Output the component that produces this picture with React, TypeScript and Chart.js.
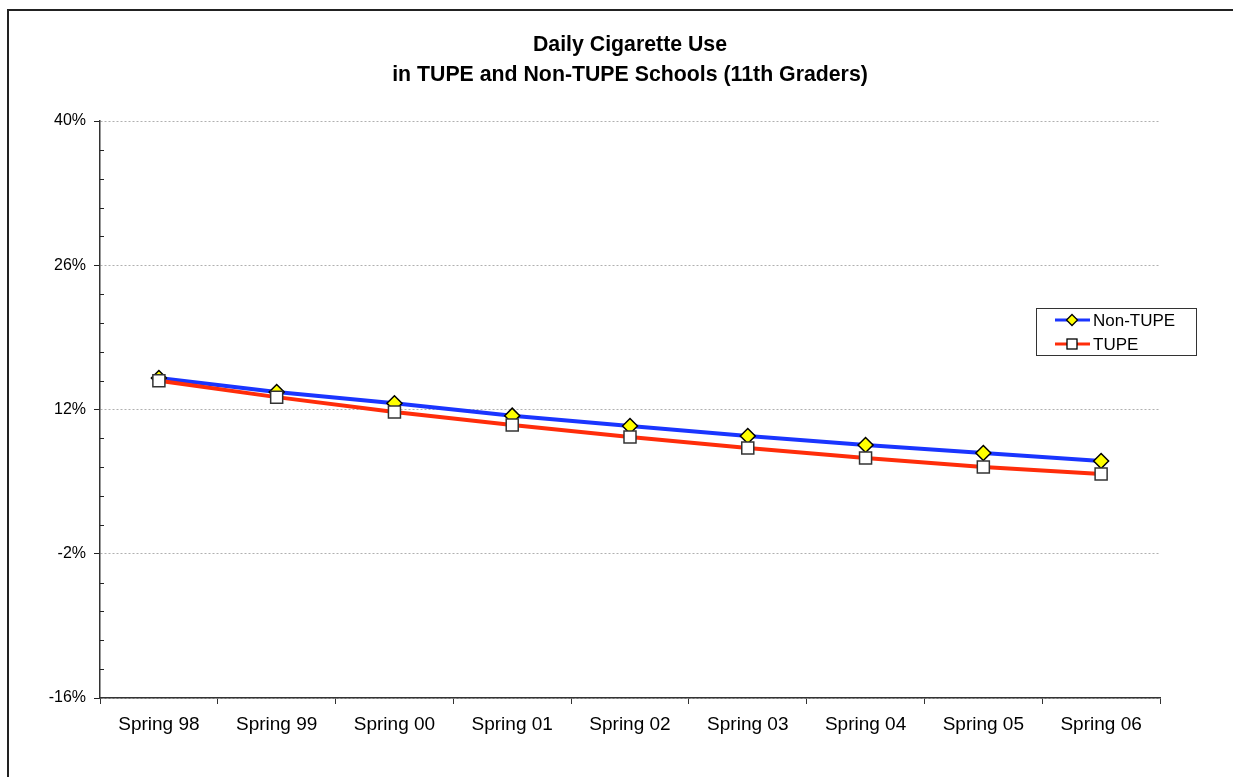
import React, { useEffect, useRef } from "react";
import { Chart, registerables } from "chart.js";

Chart.register(...registerables);

// Survey waves
const categories = [
  "Spring 98", "Spring 99", "Spring 00", "Spring 01", "Spring 02",
  "Spring 03", "Spring 04", "Spring 05", "Spring 06",
];

// Daily cigarette use, percent of 11th graders
const nonTupe = [15.05, 13.7, 12.6, 11.4, 10.4, 9.43, 8.56, 7.78, 7.0];
const tupe = [14.8, 13.2, 11.75, 10.5, 9.33, 8.27, 7.3, 6.42, 5.74];

// Y axis range and major tick step
const yMin = -16;
const yMax = 40;
const yStep = 14;
const minorPerMajor = 5;

const titleLines = ["Daily Cigarette Use", "in TUPE and Non-TUPE Schools (11th Graders)"];

const FONT = "'Liberation Sans', Arial, sans-serif";
const BLUE = "#1a35ff";
const RED = "#ff2d0a";

const titlePlugin = {
  id: "customTitle",
  afterDraw(chart: any) {
    const { ctx, chartArea } = chart;
    const cx = (chartArea.left + chartArea.right) / 2;
    ctx.save();
    ctx.fillStyle = "#000";
    ctx.font = `bold 21.3px ${FONT}`;
    ctx.textAlign = "center";
    ctx.textBaseline = "middle";
    ctx.fillText(titleLines[0], cx, 45);
    ctx.fillText(titleLines[1], cx, 75);
    ctx.restore();
  },
};

const minorTickPlugin = {
  id: "minorTicks",
  afterDraw(chart: any) {
    const { ctx, chartArea } = chart;
    const y = chart.scales.y;
    const minorStep = yStep / minorPerMajor;
    ctx.save();
    ctx.strokeStyle = "#222";
    ctx.lineWidth = 1;
    const n = Math.round((yMax - yMin) / minorStep);
    for (let i = 0; i <= n; i++) {
      if (i % minorPerMajor === 0) continue;
      const v = yMin + i * minorStep;
      const py = Math.round(y.getPixelForValue(v)) + 0.5;
      ctx.beginPath();
      ctx.moveTo(chartArea.left, py);
      ctx.lineTo(chartArea.left + 4, py);
      ctx.stroke();
    }
    ctx.restore();
  },
};

const legendPlugin = {
  id: "boxLegend",
  afterDraw(chart: any) {
    const { ctx } = chart;
    const bx = 1036.5, by = 308.5, bw = 160, bh = 47;
    ctx.save();
    ctx.fillStyle = "#fff";
    ctx.fillRect(bx, by, bw, bh);
    ctx.strokeStyle = "#333";
    ctx.lineWidth = 1;
    ctx.strokeRect(bx, by, bw, bh);
    const items = [
      { label: "Non-TUPE", color: BLUE, marker: "diamond", y: 320 },
      { label: "TUPE", color: RED, marker: "square", y: 344 },
    ];
    for (const it of items) {
      ctx.strokeStyle = it.color;
      ctx.lineWidth = 3;
      ctx.beginPath();
      ctx.moveTo(1055, it.y);
      ctx.lineTo(1090, it.y);
      ctx.stroke();
      const mx = 1072;
      ctx.lineWidth = 1.3;
      if (it.marker === "diamond") {
        ctx.fillStyle = "#ffff00";
        ctx.strokeStyle = "#000";
        ctx.beginPath();
        ctx.moveTo(mx, it.y - 5.5);
        ctx.lineTo(mx + 5.5, it.y);
        ctx.lineTo(mx, it.y + 5.5);
        ctx.lineTo(mx - 5.5, it.y);
        ctx.closePath();
        ctx.fill();
        ctx.stroke();
      } else {
        ctx.fillStyle = "#fff";
        ctx.strokeStyle = "#000";
        ctx.fillRect(mx - 5, it.y - 5, 10, 10);
        ctx.strokeRect(mx - 5, it.y - 5, 10, 10);
      }
      ctx.fillStyle = "#000";
      ctx.font = `17px ${FONT}`;
      ctx.textAlign = "left";
      ctx.textBaseline = "middle";
      ctx.fillText(it.label, 1093, it.y + 1);
    }
    ctx.restore();
  },
};

export default function App() {
  const canvasRef = useRef<HTMLCanvasElement | null>(null);

  useEffect(() => {
    if (!canvasRef.current) return;
    const chart = new Chart(canvasRef.current, {
      type: "line",
      data: {
        labels: categories,
        datasets: [
          {
            label: "Non-TUPE",
            data: nonTupe,
            borderColor: BLUE,
            backgroundColor: "#ffff00",
            borderWidth: 4,
            pointStyle: "rectRot",
            pointRadius: 7.5,
            pointBorderColor: "#000",
            pointBackgroundColor: "#ffff00",
            pointBorderWidth: 1.5,
            tension: 0,
            order: 2,
          },
          {
            label: "TUPE",
            data: tupe,
            borderColor: RED,
            backgroundColor: "#fff",
            borderWidth: 4,
            pointStyle: "rect",
            pointRadius: 8.5,
            pointBorderColor: "#333",
            pointBackgroundColor: "#fff",
            pointBorderWidth: 1.5,
            tension: 0,
            order: 1,
          },
        ],
      },
      options: {
        animation: false,
        responsive: false,
        maintainAspectRatio: false,
        layout: { padding: { top: 121, right: 73, left: 0, bottom: 0 } },
        plugins: {
          legend: { display: false },
          title: { display: false },
          tooltip: { enabled: false },
        },
        scales: {
          x: {
            offset: true,
            grid: {
              offset: true,
              drawOnChartArea: false,
              drawTicks: true,
              tickLength: 6,
              tickColor: "#333",
              color: "#333",
            },
            border: { color: "#333", width: 1.5 },
            ticks: {
              color: "#000",
              font: { family: FONT, size: 19 },
              padding: 9,
              maxRotation: 0,
              autoSkip: false,
            },
            afterFit(scale: any) {
              scale.height = 79;
            },
          },
          y: {
            min: yMin,
            max: yMax,
            grid: {
              color: "#b0b0b0",
              lineWidth: 1,
              tickBorderDash: [],
              tickColor: "#222",
              tickLength: 6,
              drawTicks: true,
            },
            border: { color: "#333", width: 1.5, dash: [2, 2] },
            ticks: {
              stepSize: yStep,
              color: "#000",
              font: { family: FONT, size: 16 },
              padding: 8,
              callback: (v: any) => `${v}%`,
            },
            afterFit(scale: any) {
              scale.width = 100;
            },
          },
        },
      },
      plugins: [minorTickPlugin, titlePlugin, legendPlugin],
    });
    return () => chart.destroy();
  }, []);

  return (
    <div style={{ position: "absolute", left: 0, top: 0, width: 1233, height: 777, background: "#fff", overflow: "hidden" }}>
      <canvas ref={canvasRef} width={1233} height={777} style={{ position: "absolute", left: 0, top: 0 }} />
      <div
        style={{
          position: "absolute",
          left: 7,
          top: 9,
          width: 1240,
          height: 780,
          borderTop: "2px solid #222",
          borderLeft: "2px solid #222",
          pointerEvents: "none",
        }}
      />
    </div>
  );
}
